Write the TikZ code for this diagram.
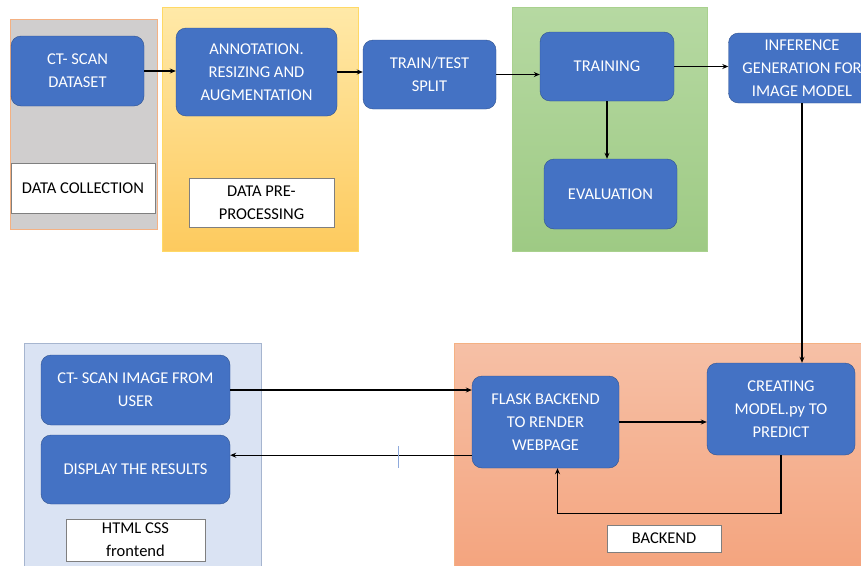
\documentclass[tikz,border=0pt]{standalone}
\usepackage{fontspec}
\setmainfont{Carlito}
\usetikzlibrary{arrows.meta}
\definecolor{boxblue}{HTML}{4472C4}
\definecolor{boxedge}{HTML}{2F528F}
\definecolor{tagedge}{HTML}{7F7F7F}
\definecolor{collectfill}{HTML}{D0CECE}
\definecolor{orangeedge}{HTML}{F4B183}
\definecolor{yellowtop}{HTML}{FFE9A8}
\definecolor{yellowbot}{HTML}{FDCA5E}
\definecolor{yellowedge}{HTML}{FFD966}
\definecolor{greentop}{HTML}{B6D9A2}
\definecolor{greenbot}{HTML}{9ECA84}
\definecolor{greenedge}{HTML}{A9D18E}
\definecolor{frontfill}{HTML}{DAE3F3}
\definecolor{frontedge}{HTML}{A6B5CF}
\definecolor{salmontop}{HTML}{F6C0A6}
\definecolor{salmonbot}{HTML}{F4A47E}
\definecolor{cursorblue}{HTML}{8FAADC}
\begin{document}
\begin{tikzpicture}[x=1pt,y=-1pt,
  flowbox/.style={draw=boxedge,fill=boxblue,rounded corners=10pt,text=white,
    align=center,inner sep=2pt,font=\fontsize{16.5}{23}\selectfont},
  tagbox/.style={draw=tagedge,fill=white,align=center,inner sep=1pt,
    font=\fontsize{16.5}{23}\selectfont},
  arr/.style={-{Stealth[length=6pt,width=5pt]},line width=1.2pt}]
\useasboundingbox (0,0) rectangle (861,565);
\filldraw[draw=orangeedge,fill=collectfill] (10,19) rectangle (157,229);
\shade[top color=yellowtop,bottom color=yellowbot] (162,7) rectangle (358,251);
\draw[yellowedge] (162,7) rectangle (358,251);
\shade[top color=greentop,bottom color=greenbot] (512,7) rectangle (707,251);
\draw[greenedge] (512,7) rectangle (707,251);
\filldraw[draw=frontedge,fill=frontfill] (24,343) rectangle (261,570);
\shade[top color=salmontop,bottom color=salmonbot] (454,343) rectangle (870,570);
\draw[orangeedge] (454,343) rectangle (870,570);

\node[flowbox,minimum width=133pt,minimum height=70pt] (data) at (77.5,71) {CT- SCAN\\DATASET};
\node[flowbox,minimum width=161pt,minimum height=88pt] (annot) at (256.5,72) {ANNOTATION.\\RESIZING AND\\AUGMENTATION};
\node[flowbox,minimum width=133pt,minimum height=69pt] (split) at (429.5,74.5) {TRAIN/TEST\\SPLIT};
\node[flowbox,minimum width=134pt,minimum height=69pt] (train) at (607,66.5) {TRAINING};
\node[flowbox,minimum width=133pt,minimum height=70pt] (eval) at (610.5,194) {EVALUATION};
\node[flowbox,minimum width=147pt,minimum height=70pt] (infer) at (802,68) {INFERENCE\\GENERATION FOR\\IMAGE MODEL};
\node[flowbox,minimum width=189pt,minimum height=70pt] (upload) at (135.5,390) {CT- SCAN IMAGE FROM\\USER};
\node[flowbox,minimum width=189pt,minimum height=69pt] (display) at (135.5,469.5) {DISPLAY THE RESULTS};
\node[flowbox,minimum width=147pt,minimum height=92pt] (flask) at (545.5,422) {FLASK BACKEND\\TO RENDER\\WEBPAGE};
\node[flowbox,minimum width=148pt,minimum height=92pt] (predict) at (781,409) {CREATING\\MODEL.py TO\\PREDICT};

\node[tagbox,minimum width=144pt,minimum height=50pt] (collecttag) at (83,188) {DATA COLLECTION};
\node[tagbox,minimum width=145pt,minimum height=49pt] (pretag) at (261.5,202.5) {DATA PRE-\\PROCESSING};
\node[tagbox,minimum width=139pt,minimum height=42pt] (fronttag) at (135.5,540) {HTML CSS\\frontend};
\node[tagbox,minimum width=114pt,minimum height=27pt] (backtag) at (664,538.5) {BACKEND};

\draw[arr] (data.east) -- (data.east -| annot.west);
\draw[arr] (annot.east) -- (annot.east -| split.west);
\draw[arr] (split.east) -- (split.east -| train.west);
\draw[arr] (train.east) -- (train.east -| infer.west);
\draw[arr] (train.south) -- (train.south |- eval.north);
\draw[arr] (infer.south) -- (infer.south |- predict.north);
\draw[arr] (upload.east) -- (upload.east -| flask.west);
\draw[arr] ([yshift=13pt]flask.south west) -- ([yshift=13pt]flask.south west -| display.east);
\draw[arr] (flask.east) -- (flask.east -| predict.west);
\draw[arr] (predict.south) -- ++(0,58) -| ([xshift=12pt]flask.south);
\draw[cursorblue,line width=1pt] (398,446) -- (398,468);
\end{tikzpicture}
\end{document}
